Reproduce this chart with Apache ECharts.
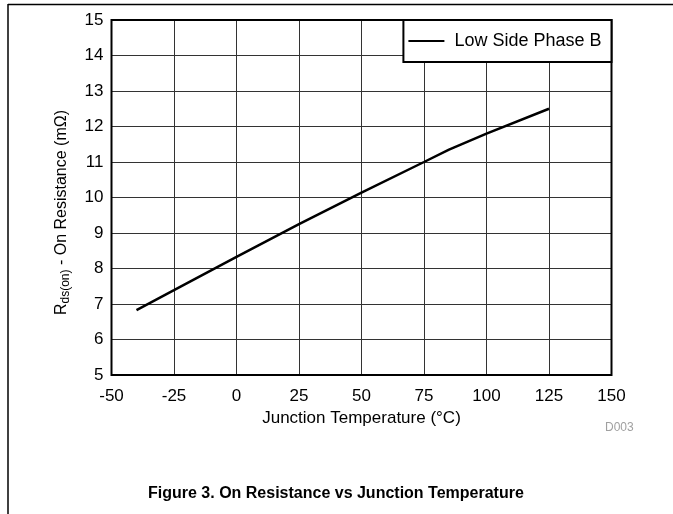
<!DOCTYPE html>
<html>
<head>
<meta charset="utf-8">
<script src="https://cdn.jsdelivr.net/npm/echarts@6/dist/echarts.min.js"></script>
<style>
  html, body { margin: 0; padding: 0; background: #fff; }
  #chart { width: 673px; height: 514px; }
</style>
</head>
<body>
<div id="chart"></div>
<script>
// Junction temperature (°C) and measured on-resistance (mΩ)
const temperatures = [-40, -25, 0, 25, 50, 75, 85, 100, 125];
const rdsOn = [6.83, 7.39, 8.33, 9.25, 10.14, 11.0, 11.35, 11.8, 12.5];
const seriesName = 'Low Side Phase B';
const xTicks = [-50, -25, 0, 25, 50, 75, 100, 125, 150];
const yTicks = [5, 6, 7, 8, 9, 10, 11, 12, 13, 14, 15];

const font = 'Liberation Sans, Arial, Helvetica, sans-serif';
const chart = echarts.init(document.getElementById('chart'), null, { renderer: 'canvas' });

chart.setOption({
  animation: false,
  backgroundColor: '#fff',
  textStyle: { fontFamily: font, color: '#000' },
  grid: {
    left: 111.5, right: 61.5, top: 20, bottom: 139,
    show: true, borderColor: '#000', borderWidth: 2, backgroundColor: 'transparent',
    z: 3
  },
  xAxis: {
    type: 'value',
    min: xTicks[0], max: xTicks[xTicks.length - 1], interval: 25,
    name: 'Junction Temperature (°C)',
    nameLocation: 'middle', nameGap: 34,
    nameTextStyle: { fontSize: 17, fontFamily: font, color: '#000' },
    axisLine: { show: false },
    axisTick: { show: false },
    axisLabel: { fontSize: 17, fontFamily: font, color: '#000', margin: 13 },
    splitLine: { show: true, lineStyle: { color: '#333', width: 1 } }
  },
  yAxis: {
    type: 'value',
    min: yTicks[0], max: yTicks[yTicks.length - 1], interval: 1,
    name: '{a|R}{sub|ds(on)}{a| - On Resistance (mΩ)}',
    nameLocation: 'middle', nameGap: 40,
    nameTextStyle: {
      fontFamily: font, color: '#000',
      padding: [0, 30, 0, 0],
      rich: {
        a: { fontSize: 16, fontFamily: font, color: '#000' },
        sub: { fontSize: 12, fontFamily: font, color: '#000', padding: [8, 0, 0, 0] }
      }
    },
    axisLine: { show: false },
    axisTick: { show: false },
    axisLabel: { fontSize: 17, fontFamily: font, color: '#000', margin: 8 },
    splitLine: { show: true, lineStyle: { color: '#333', width: 1 } }
  },
  legend: {
    right: 61.5, top: 20,
    data: [{ name: seriesName, icon: 'rect' }],
    itemWidth: 36, itemHeight: 2, itemGap: 10,
    backgroundColor: '#fff',
    borderColor: '#000', borderWidth: 2, borderRadius: 0,
    padding: [12, 10, 12, 5],
    textStyle: { fontSize: 18, fontFamily: font, color: '#000', padding: [0, 0, 0, 5] },
    z: 5
  },
  series: [{
    name: seriesName,
    type: 'line',
    data: temperatures.map((t, i) => [t, rdsOn[i]]),
    showSymbol: false, symbol: 'none',
    lineStyle: { color: '#000', width: 2.5 },
    itemStyle: { color: '#000' },
    z: 4
  }],
  graphic: [
    { type: 'line', shape: { x1: 8, y1: 4.5, x2: 673, y2: 4.5 }, style: { stroke: '#000', lineWidth: 1.5 }, silent: true },
    { type: 'line', shape: { x1: 8, y1: 4, x2: 8, y2: 514 }, style: { stroke: '#000', lineWidth: 1.5 }, silent: true },
    { type: 'text', left: 605, top: 422, style: { text: 'D003', fontSize: 12, fontFamily: font, fill: '#a0a0a0' }, silent: true },
    { type: 'text', left: 148, top: 486, style: { text: 'Figure 3. On Resistance vs Junction Temperature', fontSize: 16, fontWeight: 'bold', fontFamily: font, fill: '#000' }, silent: true }
  ]
});
</script>
</body>
</html>
